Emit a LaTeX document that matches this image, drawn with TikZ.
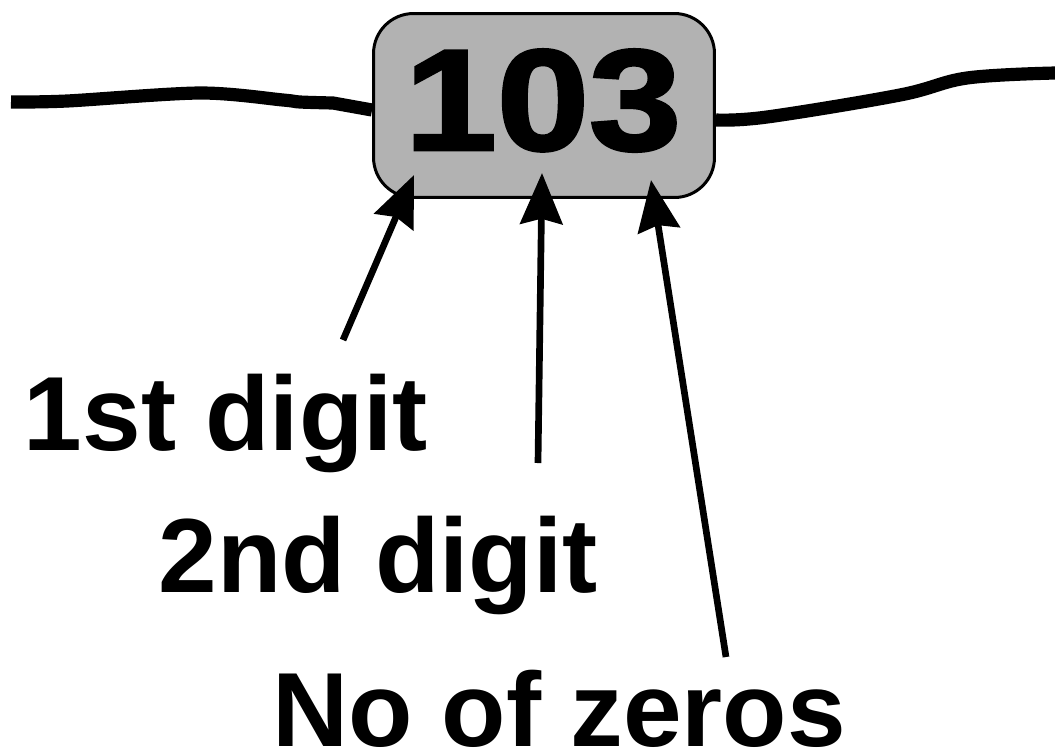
\documentclass[tikz,border=0pt]{standalone}
\usepackage{graphicx}
\usepackage{fontspec}
\setmainfont{Liberation Sans}
\newfontfamily\heavyfont{Liberation Sans Bold}[FakeBold=2]
\usetikzlibrary{arrows.meta}

\begin{document}
\begin{tikzpicture}[x=0.02cm, y=-0.02cm,
  every node/.style={inner sep=0pt, font=\bfseries\fontsize{60}{72}\selectfont},
  capbox/.style={draw, line width=1.7pt, fill=black!30, rounded corners=0.8cm,
    minimum width=6.82cm, minimum height=3.68cm},
  capwire/.style={line width=7.5pt},
  pointer/.style={line width=3.8pt, -{Stealth[length=29pt, width=24pt, inset=3pt]}}]

\useasboundingbox (0,0) rectangle (1055,755);

% Condensatore
\node[capbox] (cap) at (544,105.5) {};
\node[anchor=base] (val) at (543,150)
  {\heavyfont\fontsize{82}{90}\selectfont\scalebox{1.15}[1]{103}};

% Terminali
\draw[capwire] plot[smooth, tension=0.5] coordinates
  {(11,102) (67,101) (200,93) (283,100) (300,102) (333,103)}
  -- ([yshift=-0.09cm]cap.west);
\draw[capwire] ([yshift=-0.29cm]cap.east) plot[smooth, tension=0.6] coordinates
  {(716,120) (767,117) (900,95) (967,78) (1055,73)};

% Etichette
\node[anchor=base] (first) at (226,450) {1st digit};
\node[anchor=base] (second) at (378,592) {2nd digit};
\node[anchor=base] (zeros) at (559,746) {No of zeros};

% Frecce
\coordinate (t1) at (343,340);
\coordinate (h1) at (414,175);
\coordinate (t2) at (538,463);
\coordinate (h2) at (542,173);
\coordinate (t3) at (726,657);
\coordinate (h3) at (651,180);
\draw[pointer] (t1) -- (h1);
\draw[pointer] (t2) -- (h2);
\draw[pointer] (t3) -- (h3);
\end{tikzpicture}
\end{document}
